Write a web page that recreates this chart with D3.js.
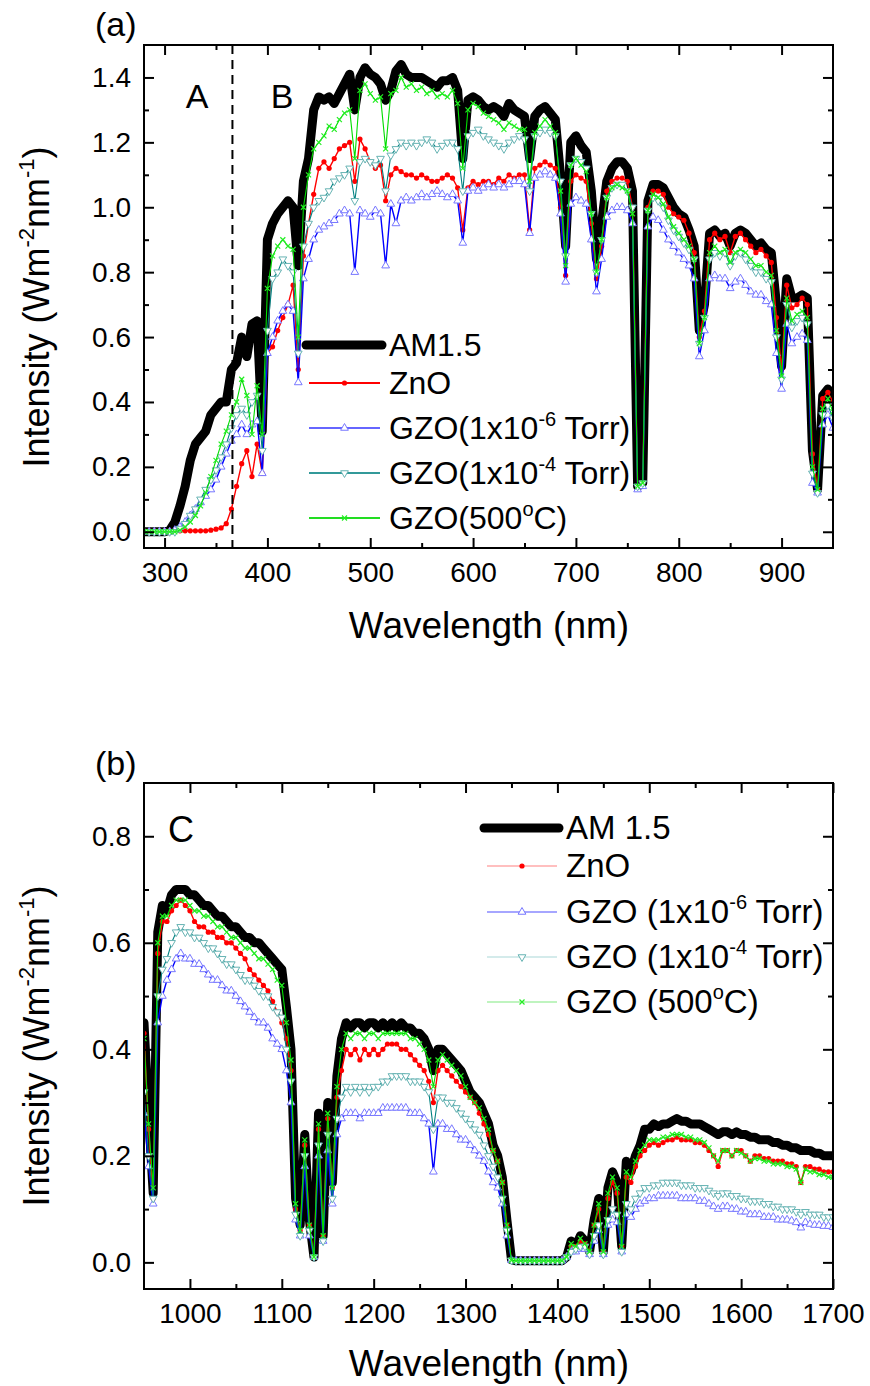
<!DOCTYPE html>
<html lang="en">
<head>
<meta charset="UTF-8" />
<title>AM1.5 transmitted spectra</title>
<script src="https://d3js.org/d3.v7.min.js"></script>
<style>
  body { margin: 0; background: #fff; }
  svg { display: block; font-family: "Liberation Sans", Arial, sans-serif; }
  .tick text { font-size: 28px; fill: #000; font-family: "Liberation Sans", Arial, sans-serif; }
  .tick line { stroke: #000; stroke-width: 2px; }
</style>
</head>
<body>
<svg id="chart" width="870" height="1386"></svg>
<script>
// ---- panel (a): 280-950 nm ----
const wlTop = [
  280,285,290,295,300,305,310,315,320,325,
  330,335,340,345,350,355,360,365,370,375,
  380,385,390,395,400,405,410,415,420,425,
  430,435,440,445,450,455,460,465,470,475,
  480,485,490,495,500,505,510,515,520,525,
  530,535,540,545,550,555,560,565,570,575,
  580,585,590,595,600,605,610,615,620,625,
  630,635,640,645,650,655,660,665,670,675,
  680,685,690,695,700,705,710,715,720,725,
  730,735,740,745,750,755,760,765,770,775,
  780,785,790,795,800,805,810,815,820,825,
  830,835,840,845,850,855,860,865,870,875,
  880,885,890,895,900,905,910,915,920,925,
  930,935,940,945,950
];
const am15Top = [
  0,0,0,0,0,0.005,0.03,0.08,0.14,0.22,
  0.27,0.29,0.31,0.36,0.38,0.40,0.40,0.50,0.52,0.60,
  0.54,0.64,0.65,0.31,0.90,0.95,0.98,1.00,1.02,1.00,
  0.82,1.08,1.15,1.30,1.34,1.33,1.34,1.32,1.35,1.38,
  1.41,1.30,1.40,1.43,1.41,1.40,1.38,1.33,1.36,1.42,
  1.44,1.41,1.40,1.40,1.40,1.39,1.38,1.37,1.39,1.39,
  1.40,1.36,1.15,1.33,1.34,1.33,1.31,1.30,1.31,1.30,
  1.28,1.32,1.30,1.29,1.28,1.15,1.28,1.30,1.31,1.29,
  1.27,1.10,0.88,1.20,1.22,1.19,1.17,1.05,0.84,0.95,
  1.08,1.12,1.14,1.14,1.12,1.05,0.14,0.15,1.02,1.07,
  1.07,1.06,1.03,1.00,0.98,0.97,0.93,0.88,0.62,0.70,
  0.92,0.93,0.91,0.92,0.88,0.92,0.93,0.92,0.90,0.88,
  0.89,0.87,0.86,0.70,0.51,0.78,0.72,0.72,0.73,0.72,
  0.25,0.13,0.42,0.44,0.40
];
const znoTop = [
  0.003,0.003,0.003,0.003,0.003,0.003,0.003,0.003,0.003,0.003,
  0.003,0.003,0.003,0.005,0.008,0.012,0.025,0.07,0.14,0.21,
  0.25,0.17,0.27,0.18,0.55,0.57,0.62,0.66,0.70,0.76,
  0.50,0.85,0.95,1.04,1.12,1.14,1.12,1.15,1.18,1.19,
  1.20,1.08,1.21,1.18,1.14,1.12,1.13,1.02,1.10,1.12,
  1.11,1.10,1.10,1.09,1.10,1.09,1.08,1.08,1.09,1.10,
  1.09,1.06,0.93,1.06,1.08,1.07,1.08,1.08,1.07,1.09,
  1.08,1.10,1.09,1.10,1.10,0.93,1.12,1.13,1.14,1.13,
  1.12,1.00,0.79,1.08,1.10,1.09,1.08,0.95,0.78,0.88,
  1.05,1.08,1.09,1.09,1.08,1.00,0.14,0.15,1.00,1.05,
  1.05,1.04,1.00,0.98,0.97,0.96,0.92,0.86,0.60,0.68,
  0.90,0.92,0.90,0.91,0.86,0.91,0.92,0.90,0.88,0.86,
  0.87,0.85,0.83,0.66,0.50,0.76,0.69,0.70,0.72,0.70,
  0.24,0.13,0.41,0.43,0.40
];
const gzo6Top = [
  0,0,0,0,0,0,0.005,0.015,0.03,0.05,
  0.07,0.09,0.11,0.13,0.16,0.20,0.24,0.28,0.30,0.33,
  0.30,0.33,0.34,0.18,0.55,0.60,0.65,0.68,0.70,0.68,
  0.46,0.78,0.84,0.90,0.93,0.94,0.95,0.96,0.98,0.99,
  0.98,0.80,0.99,0.98,0.97,0.99,0.98,0.82,1.01,0.95,
  1.02,1.03,1.02,1.03,1.04,1.03,1.04,1.05,1.04,1.03,
  1.04,1.02,0.89,1.05,1.06,1.05,1.06,1.07,1.06,1.07,
  1.06,1.07,1.08,1.08,1.07,0.92,1.09,1.10,1.11,1.10,
  1.09,0.98,0.77,1.01,1.03,1.02,1.01,0.90,0.74,0.84,
  0.97,0.99,1.00,1.00,0.99,0.95,0.13,0.14,0.94,0.97,
  0.96,0.93,0.90,0.88,0.86,0.84,0.82,0.78,0.54,0.62,
  0.78,0.79,0.78,0.78,0.75,0.77,0.78,0.76,0.74,0.73,
  0.73,0.71,0.70,0.55,0.44,0.64,0.58,0.60,0.61,0.59,
  0.15,0.12,0.33,0.36,0.32
];
const gzo4Top = [
  0,0,0,0,0,0,0,0.01,0.025,0.05,
  0.07,0.10,0.13,0.16,0.19,0.23,0.27,0.32,0.36,0.38,
  0.36,0.40,0.42,0.25,0.62,0.78,0.80,0.84,0.82,0.80,
  0.55,0.88,0.95,1.00,1.02,1.03,1.05,1.08,1.09,1.10,
  1.12,1.02,1.14,1.15,1.14,1.13,1.15,1.05,1.16,1.18,
  1.20,1.19,1.20,1.19,1.20,1.21,1.20,1.18,1.19,1.20,
  1.20,1.18,1.05,1.22,1.23,1.24,1.22,1.21,1.20,1.19,
  1.18,1.20,1.21,1.22,1.21,1.05,1.22,1.23,1.24,1.23,
  1.22,1.08,0.85,1.13,1.15,1.14,1.12,0.98,0.80,0.90,
  1.03,1.06,1.07,1.07,1.05,1.00,0.14,0.15,0.99,1.03,
  1.02,1.00,0.96,0.93,0.91,0.89,0.87,0.84,0.58,0.66,
  0.84,0.86,0.85,0.86,0.82,0.85,0.86,0.84,0.82,0.80,
  0.80,0.78,0.77,0.60,0.47,0.70,0.63,0.65,0.66,0.64,
  0.18,0.12,0.36,0.39,0.35
];
const gzo500Top = [
  0,0,0,0,0,0,0,0.005,0.015,0.03,
  0.05,0.08,0.12,0.17,0.22,0.27,0.31,0.36,0.40,0.47,
  0.42,0.30,0.45,0.30,0.75,0.85,0.88,0.90,0.88,0.87,
  0.60,1.00,1.10,1.18,1.20,1.22,1.25,1.24,1.27,1.29,
  1.30,1.15,1.36,1.38,1.35,1.33,1.34,1.18,1.35,1.36,
  1.40,1.37,1.38,1.36,1.37,1.35,1.36,1.34,1.35,1.34,
  1.36,1.32,1.12,1.30,1.32,1.31,1.29,1.28,1.27,1.26,
  1.24,1.26,1.25,1.24,1.24,1.08,1.23,1.25,1.27,1.25,
  1.23,1.05,0.82,1.13,1.15,1.13,1.11,0.98,0.80,0.90,
  1.03,1.06,1.07,1.06,1.05,0.98,0.14,0.15,0.99,1.04,
  1.03,1.01,0.97,0.94,0.92,0.90,0.88,0.84,0.58,0.66,
  0.86,0.88,0.86,0.87,0.83,0.86,0.87,0.86,0.84,0.82,
  0.82,0.80,0.79,0.62,0.48,0.72,0.65,0.67,0.68,0.66,
  0.20,0.13,0.38,0.41,0.37
];

// ---- panel (b): 950-1700 nm ----
const wlBottom = [
  950,955,960,965,970,975,980,985,990,995,
  1000,1005,1010,1015,1020,1025,1030,1035,1040,1045,
  1050,1055,1060,1065,1070,1075,1080,1085,1090,1095,
  1100,1105,1110,1115,1120,1125,1130,1135,1140,1145,
  1150,1155,1160,1165,1170,1175,1180,1185,1190,1195,
  1200,1205,1210,1215,1220,1225,1230,1235,1240,1245,
  1250,1255,1260,1265,1270,1275,1280,1285,1290,1295,
  1300,1305,1310,1315,1320,1325,1330,1335,1340,1345,
  1350,1355,1360,1365,1370,1375,1380,1385,1390,1395,
  1400,1405,1410,1415,1420,1425,1430,1435,1440,1445,
  1450,1455,1460,1465,1470,1475,1480,1485,1490,1495,
  1500,1505,1510,1515,1520,1525,1530,1535,1540,1545,
  1550,1555,1560,1565,1570,1575,1580,1585,1590,1595,
  1600,1605,1610,1615,1620,1625,1630,1635,1640,1645,
  1650,1655,1660,1665,1670,1675,1680,1685,1690,1695,
  1700
];
const am15Bottom = [
  0.45,0.28,0.13,0.62,0.67,0.66,0.69,0.70,0.70,0.70,
  0.69,0.69,0.68,0.67,0.67,0.66,0.65,0.65,0.64,0.63,
  0.63,0.62,0.61,0.61,0.60,0.60,0.59,0.58,0.57,0.56,
  0.55,0.48,0.40,0.12,0.07,0.24,0.08,0.01,0.28,0.05,
  0.30,0.15,0.35,0.42,0.45,0.44,0.45,0.45,0.44,0.45,
  0.45,0.44,0.45,0.44,0.45,0.44,0.45,0.44,0.44,0.43,
  0.43,0.42,0.40,0.36,0.40,0.40,0.39,0.38,0.37,0.36,
  0.34,0.32,0.31,0.30,0.28,0.26,0.22,0.20,0.16,0.08,
  0.005,0.003,0.003,0.003,0.003,0.003,0.003,0.003,0.003,0.003,
  0.003,0.003,0.01,0.04,0.03,0.05,0.04,0.02,0.08,0.12,
  0.02,0.14,0.17,0.15,0.03,0.19,0.17,0.20,0.22,0.25,
  0.25,0.26,0.255,0.26,0.26,0.265,0.27,0.265,0.265,0.26,
  0.26,0.26,0.255,0.25,0.245,0.24,0.245,0.245,0.24,0.245,
  0.24,0.24,0.235,0.235,0.23,0.23,0.23,0.225,0.225,0.22,
  0.22,0.215,0.215,0.21,0.21,0.21,0.205,0.205,0.20,0.20,
  0.20
];
const znoBottom = [
  0.43,0.25,0.12,0.58,0.64,0.64,0.66,0.67,0.68,0.67,
  0.66,0.64,0.63,0.63,0.62,0.62,0.61,0.61,0.60,0.60,
  0.59,0.58,0.57,0.55,0.54,0.53,0.52,0.51,0.49,0.47,
  0.45,0.42,0.36,0.10,0.06,0.22,0.07,0.01,0.25,0.05,
  0.27,0.14,0.31,0.36,0.40,0.39,0.40,0.38,0.40,0.39,
  0.40,0.39,0.40,0.41,0.41,0.41,0.40,0.40,0.39,0.38,
  0.37,0.36,0.34,0.30,0.36,0.37,0.36,0.35,0.34,0.33,
  0.32,0.31,0.30,0.28,0.26,0.24,0.21,0.19,0.15,0.07,
  0.004,0.003,0.003,0.003,0.003,0.003,0.003,0.003,0.003,0.003,
  0.003,0.003,0.01,0.03,0.03,0.04,0.035,0.02,0.07,0.10,
  0.02,0.12,0.15,0.13,0.03,0.16,0.15,0.18,0.20,0.21,
  0.22,0.225,0.22,0.225,0.23,0.23,0.235,0.23,0.23,0.23,
  0.225,0.225,0.22,0.21,0.20,0.18,0.21,0.21,0.20,0.21,
  0.21,0.20,0.19,0.20,0.20,0.195,0.195,0.19,0.19,0.19,
  0.185,0.185,0.18,0.15,0.18,0.18,0.175,0.175,0.17,0.17,
  0.17
];
const gzo6Bottom = [
  0.28,0.18,0.11,0.45,0.50,0.53,0.55,0.57,0.58,0.57,
  0.57,0.56,0.56,0.55,0.54,0.53,0.53,0.52,0.51,0.51,
  0.50,0.49,0.48,0.47,0.46,0.45,0.45,0.44,0.42,0.41,
  0.40,0.36,0.30,0.08,0.05,0.18,0.05,0.01,0.20,0.04,
  0.21,0.11,0.24,0.27,0.28,0.28,0.28,0.27,0.28,0.28,
  0.28,0.28,0.29,0.29,0.29,0.29,0.29,0.29,0.28,0.28,
  0.28,0.27,0.26,0.17,0.26,0.26,0.25,0.25,0.24,0.23,
  0.23,0.22,0.21,0.20,0.19,0.17,0.15,0.14,0.11,0.05,
  0.004,0.003,0.003,0.003,0.003,0.003,0.003,0.003,0.003,0.003,
  0.003,0.003,0.01,0.02,0.02,0.025,0.025,0.015,0.04,0.06,
  0.015,0.07,0.08,0.075,0.02,0.09,0.085,0.10,0.11,0.115,
  0.12,0.12,0.125,0.125,0.125,0.125,0.125,0.12,0.12,0.12,
  0.12,0.115,0.115,0.11,0.105,0.10,0.105,0.105,0.10,0.10,
  0.095,0.095,0.09,0.09,0.09,0.085,0.085,0.085,0.08,0.08,
  0.08,0.078,0.075,0.065,0.075,0.072,0.07,0.07,0.068,0.068,
  0.066
];
const gzo4Bottom = [
  0.32,0.20,0.12,0.50,0.55,0.57,0.60,0.62,0.63,0.62,
  0.62,0.61,0.61,0.60,0.59,0.59,0.58,0.57,0.56,0.56,
  0.55,0.54,0.53,0.53,0.52,0.51,0.50,0.50,0.48,0.47,
  0.46,0.40,0.34,0.09,0.05,0.20,0.06,0.01,0.22,0.04,
  0.24,0.12,0.27,0.31,0.33,0.32,0.33,0.32,0.33,0.32,
  0.33,0.33,0.34,0.34,0.35,0.35,0.35,0.35,0.34,0.34,
  0.34,0.33,0.32,0.25,0.31,0.31,0.30,0.30,0.29,0.28,
  0.27,0.26,0.25,0.24,0.22,0.20,0.18,0.16,0.12,0.06,
  0.004,0.003,0.003,0.003,0.003,0.003,0.003,0.003,0.003,0.003,
  0.003,0.003,0.01,0.02,0.025,0.03,0.03,0.015,0.05,0.07,
  0.015,0.08,0.10,0.09,0.02,0.11,0.10,0.12,0.13,0.14,
  0.14,0.145,0.145,0.15,0.15,0.15,0.15,0.145,0.145,0.145,
  0.14,0.14,0.14,0.135,0.13,0.125,0.13,0.13,0.125,0.125,
  0.12,0.12,0.115,0.115,0.115,0.11,0.11,0.105,0.105,0.10,
  0.10,0.10,0.095,0.09,0.095,0.09,0.09,0.09,0.085,0.085,
  0.085
];
const gzo500Bottom = [
  0.42,0.26,0.14,0.60,0.65,0.65,0.67,0.68,0.68,0.68,
  0.67,0.66,0.66,0.65,0.65,0.64,0.63,0.63,0.62,0.61,
  0.61,0.60,0.59,0.59,0.58,0.57,0.57,0.56,0.55,0.53,
  0.52,0.45,0.38,0.11,0.06,0.23,0.07,0.01,0.26,0.05,
  0.28,0.14,0.33,0.40,0.43,0.42,0.43,0.43,0.42,0.43,
  0.43,0.42,0.43,0.43,0.43,0.43,0.43,0.43,0.42,0.42,
  0.41,0.40,0.38,0.33,0.38,0.39,0.38,0.37,0.36,0.35,
  0.33,0.31,0.30,0.29,0.27,0.25,0.21,0.19,0.15,0.07,
  0.004,0.003,0.003,0.003,0.003,0.003,0.003,0.003,0.003,0.003,
  0.003,0.003,0.01,0.035,0.03,0.045,0.035,0.02,0.07,0.11,
  0.02,0.13,0.16,0.14,0.03,0.17,0.16,0.19,0.21,0.22,
  0.23,0.23,0.23,0.235,0.235,0.24,0.24,0.24,0.235,0.235,
  0.23,0.23,0.225,0.215,0.20,0.19,0.21,0.21,0.20,0.21,
  0.205,0.20,0.19,0.195,0.195,0.19,0.19,0.185,0.185,0.185,
  0.18,0.18,0.175,0.15,0.175,0.17,0.17,0.165,0.165,0.16,
  0.16
];

// ticks
const xTicksTop = [300,400,500,600,700,800,900];
const xMinorTop = [350,450,550,650,750,850];
const yTicksTop = [0,0.2,0.4,0.6,0.8,1.0,1.2,1.4];
const yMinorTop = [0.1,0.3,0.5,0.7,0.9,1.1,1.3];
const xTicksBottom = [1000,1100,1200,1300,1400,1500,1600,1700];
const xMinorBottom = [1050,1150,1250,1350,1450,1550,1650];
const yTicksBottom = [0,0.2,0.4,0.6,0.8];
const yMinorBottom = [0.1,0.3,0.5,0.7];

// legend labels, {..} = superscript
const legendTop = ["AM1.5","ZnO","GZO(1x10{-6} Torr)","GZO(1x10{-4} Torr)","GZO(500{o}C)"];
const legendBottom = ["AM 1.5","ZnO","GZO (1x10{-6} Torr)","GZO (1x10{-4} Torr)","GZO (500{o}C)"];
const boundaryNm = 366;

const svg = d3.select("#chart");
const defs = svg.append("defs");

// series styles: 0 = AM1.5, then ZnO, GZO 1e-6, GZO 1e-4, GZO 500C
const styles = [
  {color: "#000", width: 9},
  {color: "#ff0000", width: 1.4, marker: "dot", mcolor: "#ff0000"},
  {color: "#0000ff", width: 1.4, marker: "up", mcolor: "#7777ff"},
  {color: "#008080", width: 1.1, marker: "down", mcolor: "#66b3b3"},
  {color: "#00dd00", width: 1.1, marker: "x", mcolor: "#22ee22"}
];

function addMarker(sel, kind, color) {
  if (kind === "dot") {
    sel.append("circle").attr("r", 2.6).attr("fill", color);
  } else if (kind === "up") {
    sel.append("path").attr("d", d3.symbol().type(d3.symbolTriangle).size(26)())
      .attr("fill", "#fff").attr("stroke", color).attr("stroke-width", 1);
  } else if (kind === "down") {
    sel.append("path").attr("d", d3.symbol().type(d3.symbolTriangle).size(26)())
      .attr("transform", "rotate(180)")
      .attr("fill", "#fff").attr("stroke", color).attr("stroke-width", 1);
  } else {
    sel.append("path").attr("d", "M-2.5,-2.5L2.5,2.5M-2.5,2.5L2.5,-2.5")
      .attr("stroke", color).attr("stroke-width", 1.2);
  }
}

function richText(sel, str, size) {
  const sup = Math.round(size * 0.62);
  const rise = size * 0.42;
  let raised = false;
  str.split(/(\{[^}]*\})/).filter(s => s.length).forEach(p => {
    if (p[0] === "{") {
      sel.append("tspan").attr("font-size", sup).attr("dy", -rise).text(p.slice(1, -1));
      raised = true;
    } else {
      const t = sel.append("tspan").attr("font-size", size).text(p);
      if (raised) { t.attr("dy", rise); raised = false; }
    }
  });
}

function drawPanel(o) {
  const g = svg.append("g");
  const x = d3.scaleLinear().domain(o.xDomain).range([o.left, o.right]);
  const y = d3.scaleLinear().domain(o.yDomain).range([o.bottom, o.top]);

  defs.append("clipPath").attr("id", o.id)
    .append("rect").attr("x", o.left).attr("y", o.top)
    .attr("width", o.right - o.left).attr("height", o.bottom - o.top);

  const line = d3.line().x(d => x(d[0])).y(d => y(d[1]));
  const plot = g.append("g").attr("clip-path", `url(#${o.id})`);

  o.series.forEach((vals, i) => {
    const st = styles[i];
    const pts = o.wl.map((w, k) => [w, vals[k]]);
    plot.append("path").datum(pts).attr("d", line)
      .attr("fill", "none").attr("stroke", st.color).attr("stroke-width", st.width)
      .attr("stroke-linejoin", "round").attr("stroke-linecap", "round");
    if (st.marker) {
      plot.append("g").selectAll("g").data(pts).join("g")
        .attr("transform", d => `translate(${x(d[0])},${y(d[1])})`)
        .each(function() { addMarker(d3.select(this), st.marker, st.mcolor); });
    }
  });

  if (o.extra) o.extra(g, x, y);

  // axes, ticks pointing inward on all four sides
  const fmtX = d3.format("d"), fmtY = d3.format(".1f");
  g.append("g").attr("transform", `translate(0,${o.bottom})`)
    .call(d3.axisBottom(x).tickValues(o.xTicks).tickSize(-10).tickPadding(14).tickFormat(fmtX));
  g.append("g").attr("transform", `translate(0,${o.bottom})`)
    .call(d3.axisBottom(x).tickValues(o.xMinor).tickSize(-5).tickFormat(""));
  g.append("g").attr("transform", `translate(0,${o.top})`)
    .call(d3.axisTop(x).tickValues(o.xTicks).tickSize(-10).tickFormat(""));
  g.append("g").attr("transform", `translate(0,${o.top})`)
    .call(d3.axisTop(x).tickValues(o.xMinor).tickSize(-5).tickFormat(""));
  g.append("g").attr("transform", `translate(${o.left},0)`)
    .call(d3.axisLeft(y).tickValues(o.yTicks).tickSize(-10).tickPadding(13).tickFormat(fmtY));
  g.append("g").attr("transform", `translate(${o.left},0)`)
    .call(d3.axisLeft(y).tickValues(o.yMinor).tickSize(-5).tickFormat(""));
  g.append("g").attr("transform", `translate(${o.right},0)`)
    .call(d3.axisRight(y).tickValues(o.yTicks).tickSize(-10).tickFormat(""));
  g.append("g").attr("transform", `translate(${o.right},0)`)
    .call(d3.axisRight(y).tickValues(o.yMinor).tickSize(-5).tickFormat(""));
  g.selectAll(".domain").remove();

  g.append("rect").attr("x", o.left).attr("y", o.top)
    .attr("width", o.right - o.left).attr("height", o.bottom - o.top)
    .attr("fill", "none").attr("stroke", "#000").attr("stroke-width", 2);

  // titles
  g.append("text").attr("x", 489).attr("y", o.xTitleY)
    .attr("text-anchor", "middle").attr("font-size", 37).text("Wavelength (nm)");
  const yt = g.append("text")
    .attr("transform", `translate(49,${o.yTitleY}) rotate(-90)`)
    .attr("text-anchor", "middle");
  richText(yt, "Intensity (Wm{-2}nm{-1})", 36);

  g.append("text").attr("x", 95).attr("y", o.tagY).attr("font-size", 34).text(o.tag);

  // legend
  const lg = g.append("g");
  o.legend.labels.forEach((lab, i) => {
    const ly = o.legend.rows[i];
    const st = styles[i];
    if (i === 0) {
      lg.append("line").attr("x1", o.legend.ax0).attr("x2", o.legend.ax1)
        .attr("y1", ly).attr("y2", ly).attr("stroke", "#000")
        .attr("stroke-width", 9).attr("stroke-linecap", "round");
    } else {
      lg.append("line").attr("x1", o.legend.x0).attr("x2", o.legend.x1)
        .attr("y1", ly).attr("y2", ly).attr("stroke", o.legend.lineColors[i])
        .attr("stroke-width", o.legend.lineWidth);
      const m = lg.append("g").attr("transform",
        `translate(${(o.legend.x0 + o.legend.x1) / 2},${ly})`);
      addMarker(m, st.marker, st.mcolor);
    }
    const t = lg.append("text").attr("x", o.legend.tx).attr("y", ly + 11);
    richText(t, lab, o.legend.size);
  });
}

drawPanel({
  id: "clipA", tag: "(a)", tagY: 36,
  left: 144, right: 833, top: 45, bottom: 548,
  xDomain: [280, 950], yDomain: [-0.05, 1.5],
  wl: wlTop, series: [am15Top, znoTop, gzo6Top, gzo4Top, gzo500Top],
  xTicks: xTicksTop, xMinor: xMinorTop, yTicks: yTicksTop, yMinor: yMinorTop,
  xTitleY: 638, yTitleY: 307,
  legend: {
    labels: legendTop, rows: [345, 383, 428, 473, 518],
    ax0: 306, ax1: 382, x0: 309, x1: 380, tx: 389, size: 32, lineWidth: 2,
    lineColors: ["#000", "#ff0000", "#6666ff", "#339999", "#22dd22"]
  },
  extra: (g, x, y) => {
    g.append("line").attr("x1", x(boundaryNm)).attr("x2", x(boundaryNm))
      .attr("y1", 45).attr("y2", 548).attr("stroke", "#000")
      .attr("stroke-width", 2).attr("stroke-dasharray", "9,6");
    g.append("text").attr("x", 197).attr("y", 108).attr("text-anchor", "middle")
      .attr("font-size", 34).text("A");
    g.append("text").attr("x", 282).attr("y", 108).attr("text-anchor", "middle")
      .attr("font-size", 34).text("B");
  }
});

drawPanel({
  id: "clipB", tag: "(b)", tagY: 775,
  left: 144, right: 833, top: 783, bottom: 1289,
  xDomain: [950, 1700], yDomain: [-0.05, 0.9],
  wl: wlBottom, series: [am15Bottom, znoBottom, gzo6Bottom, gzo4Bottom, gzo500Bottom],
  xTicks: xTicksBottom, xMinor: xMinorBottom, yTicks: yTicksBottom, yMinor: yMinorBottom,
  xTitleY: 1376, yTitleY: 1046,
  legend: {
    labels: legendBottom, rows: [828, 866, 912, 957, 1002],
    ax0: 484, ax1: 559, x0: 487, x1: 557, tx: 566, size: 33, lineWidth: 1.3,
    lineColors: ["#000", "#ffaaaa", "#8888ff", "#c6e4e4", "#aaf0aa"]
  },
  extra: (g) => {
    g.append("text").attr("x", 181).attr("y", 842).attr("text-anchor", "middle")
      .attr("font-size", 36).text("C");
  }
});
</script>
</body>
</html>
